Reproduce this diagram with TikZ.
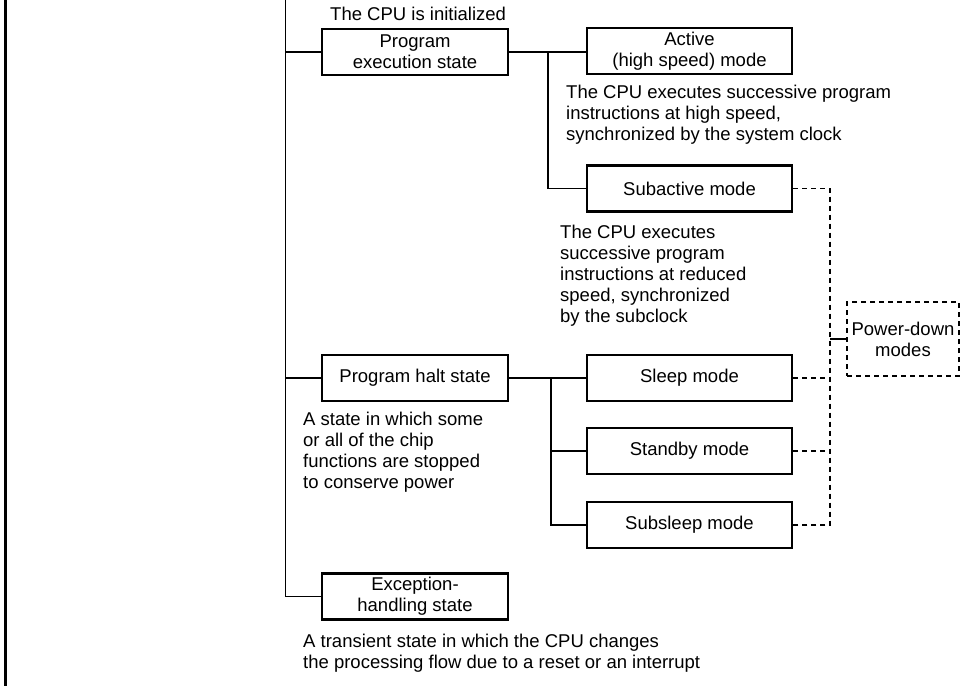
\documentclass[tikz,border=0pt]{standalone}
\usepackage{fontspec}
\setmainfont{Liberation Sans}
\begin{document}
\begin{tikzpicture}[x=1pt,y=-1pt,
  state/.style={draw, line width=2.2pt, align=center, inner sep=0pt,
    minimum width=186pt, minimum height=46pt, font=\txt},
  mode/.style={state, minimum width=205pt},
  pdbox/.style={draw, dashed, dash pattern=on 5pt off 4pt, line width=1.1pt,
    align=center, inner sep=0pt, minimum width=112pt, minimum height=74pt, font=\txt},
  desc/.style={anchor=base west, align=left, inner sep=0pt, font=\txt},
  link/.style={line width=1.1pt},
  dlink/.style={line width=1.1pt, dash pattern=on 5pt off 4pt}]
\def\txt{\fontsize{18.5}{21}\selectfont}
\useasboundingbox (0,0) rectangle (969,686);

% frame edge on the left
\draw[line width=2.4pt] (5.5,0) -- (5.5,686);

% states
\node[state] (exec) at (415,52) {Program\\execution state};
\node[state] (halt) at (415,378) {Program halt state};
\node[state] (exc)  at (415,596.5) {Exception-\\handling state};

% modes
\node[mode] (active) at (689.5,51) {Active\\(high speed) mode};
\node[mode] (subact) at (689.5,188.5) {Subactive mode};
\node[mode] (sleep)  at (689.5,378) {Sleep mode};
\node[mode] (stby)   at (689.5,451) {Standby mode};
\node[mode] (ssleep) at (689.5,525) {Subsleep mode};

\node[pdbox] (pd) at (903,339) {Power-down\\modes};

% descriptions (anchored at the baseline of their last line)
\node[desc] (tinit) at (330,20.5) {The CPU is initialized};
\node[desc] (tact) at (566,140.7) {The CPU executes successive program\\instructions at high speed,\\synchronized by the system clock};
\node[desc] (tsub) at (560,322.5) {The CPU executes\\successive program\\instructions at reduced\\speed, synchronized\\by the subclock};
\node[desc] (thalt) at (303,488) {A state in which some\\or all of the chip\\functions are stopped\\to conserve power};
\node[desc] (texc) at (303,668) {A transient state in which the CPU changes\\the processing flow due to a reset or an interrupt};

% main trunk
\coordinate (top) at (285.5,0);
\draw[link] (top) |- (exc.west);
\draw[link] (top |- exec.west) -- (exec.west);
\draw[link] (top |- halt.west) -- (halt.west);

% execution branch
\coordinate (ej) at (548,0);
\draw[link] (exec.east) -- (exec.east -| active.west);
\draw[link] (ej |- exec.east) |- (subact.west);

% halt branch
\coordinate (hj) at (551,0);
\draw[link] (halt.east) -- (sleep.west);
\draw[link] (hj |- halt.east) |- (ssleep.west);
\draw[link] (hj |- stby.west) -- (stby.west);

% power-down grouping
\coordinate (pj) at (830,0);
\draw[dlink] (subact.east) -| (pj |- ssleep.east) -- (ssleep.east);
\draw[dlink] (sleep.east) -- (pj |- sleep.east);
\draw[dlink] (stby.east) -- (pj |- stby.east);
\draw[link] (pj |- pd.west) -- (pd.west);
\end{tikzpicture}
\end{document}
